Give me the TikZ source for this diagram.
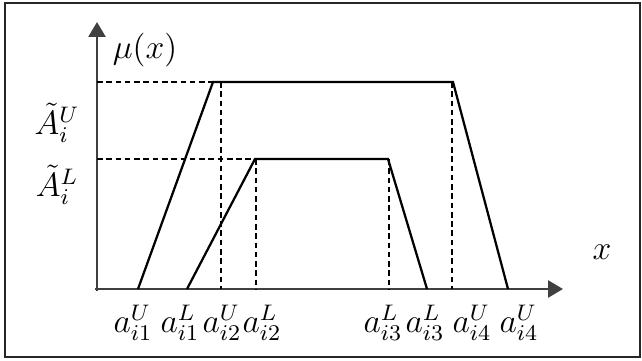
\documentclass[tikz,border=0pt]{standalone}
\usepackage{amsmath,amssymb}
\usetikzlibrary{arrows.meta}

\tikzset{
  axisline/.style={line width=1pt, black!75, -{Triangle[length=5.3pt,width=6pt]}},
  curve/.style={line width=0.8pt},
  guide/.style={line width=0.9pt, dash pattern=on 2pt off 1.3pt},
  lbl/.style={inner sep=0pt},
}

\begin{document}
\begin{tikzpicture}[scale=0.5, font=\large]
\useasboundingbox (-2.425,-1.775) rectangle (13.625,7.225);

% Outer frame
\draw[line width=0.6pt, black!85] (-2.3,-1.7) rectangle (13.575,7.15);

% Corner points of the two trapezoids
\coordinate (u1) at (1.025,0);
\coordinate (u2) at (2.9,5.175);
\coordinate (u3) at (8.9,5.175);
\coordinate (u4) at (10.275,0);
\coordinate (l1) at (2.25,0);
\coordinate (l2) at (3.95,3.25);
\coordinate (l3) at (7.275,3.25);
\coordinate (l4) at (8.25,0);
\coordinate (o) at (0,0);

% Axes
\draw[axisline] (-0.05,0) -- (11.65,0);
\draw[axisline] (0,-0.05) -- (0,6.675);

% Axis labels
\node[lbl] (mu) at (1.2,5.975) {$\mu(x)$};
\node[lbl] (xl) at (12.625,0.925) {$x$};
\node[lbl] (AU) at (-1.0,4.15) {$\tilde{A}_i^U$};
\node[lbl] (AL) at (-1.0,2.6) {$\tilde{A}_i^L$};

% Guide lines
\draw[guide] (o |- u2) -- (u2);
\draw[guide] (o |- l2) -- (l2);
\draw[guide] (3.1,5.175) -- (3.1,0);
\draw[guide] (3.975,3.25) -- (3.975,0);
\draw[guide] (7.3,3.25) -- (7.3,0);
\draw[guide] (8.875,5.175) -- (8.875,0);

% Upper and lower membership functions
\draw[curve] (u1) -- (u2) -- (u3) -- (u4);
\draw[curve] (l1) -- (l2) -- (l3) -- (l4);

% Tick labels
\foreach \v/\l in {0.9/{a^U_{i1}}, 2.075/{a^L_{i1}}, 3.125/{a^U_{i2}}, 4.125/{a^L_{i2}},
                   7.15/{a^L_{i3}}, 8.2/{a^L_{i3}}, 9.375/{a^U_{i4}}, 10.55/{a^U_{i4}}} {
    \node[lbl] at (\v,-0.85) {$\l$};
}

\end{tikzpicture}
\end{document}
